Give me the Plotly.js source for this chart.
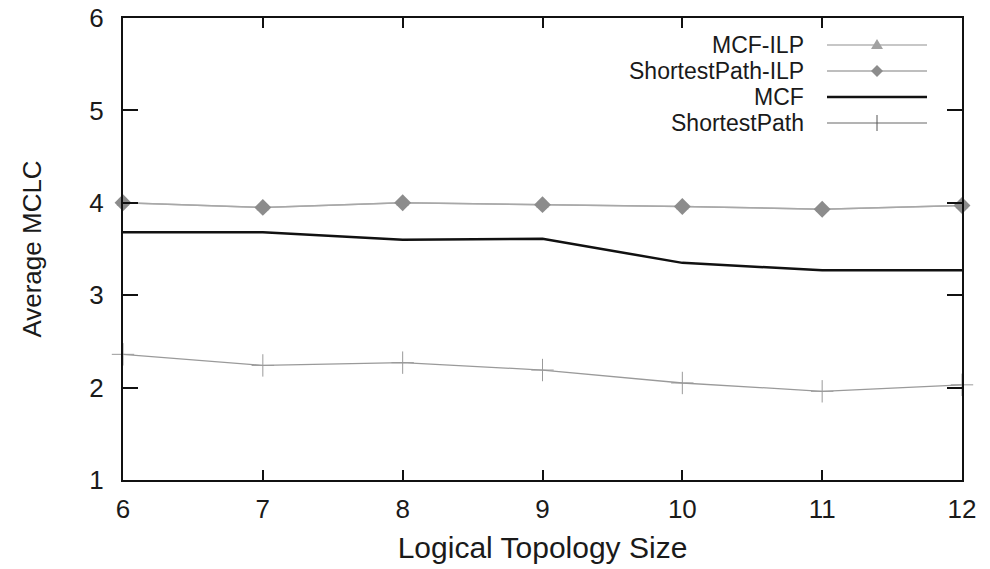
<!DOCTYPE html>
<html>
<head>
<meta charset="utf-8">
<script src="https://cdn.plot.ly/plotly-3.0.1.min.js"></script>
<style>
  html, body { margin: 0; padding: 0; background: #ffffff; }
  #chart { width: 990px; height: 569px; }
</style>
</head>
<body>
<div id="chart"></div>
<script>
// ---- data ----
const topologySize = [6, 7, 8, 9, 10, 11, 12];
const mcfIlp          = [4.00, 3.95, 4.00, 3.98, 3.96, 3.93, 3.97];
const shortestPathIlp = [4.00, 3.95, 4.00, 3.98, 3.96, 3.93, 3.97];
const mcf             = [3.68, 3.68, 3.60, 3.61, 3.35, 3.27, 3.27];
const shortestPath    = [2.36, 2.24, 2.27, 2.19, 2.05, 1.96, 2.03];
const seriesNames = ["MCF-ILP", "ShortestPath-ILP", "MCF", "ShortestPath"];
const xTickVals = [6, 7, 8, 9, 10, 11, 12];
const yTickVals = [1, 2, 3, 4, 5, 6];

// ---- layout geometry (pixels) ----
const W = 990, H = 569;
const L = 123, R = 962, T = 18, B = 480;
const px = v => (v - L) / (R - L);
const py = v => (B - v) / (B - T);

const FONT = "Liberation Sans, Arial, Helvetica, sans-serif";
const TXT = "#1a1a1a";

const traces = [
  {
    x: topologySize, y: mcfIlp, name: seriesNames[0], type: "scatter", mode: "lines+markers",
    line: { color: "#b4b4b4", width: 1.5 },
    marker: { symbol: "triangle-up", size: 11, color: "#a2a2a2" },
    cliponaxis: false, showlegend: false
  },
  {
    x: topologySize, y: shortestPathIlp, name: seriesNames[1], type: "scatter", mode: "lines+markers",
    line: { color: "#a8a8a8", width: 1.5 },
    marker: { symbol: "diamond", size: 13, color: "#8c8c8c" },
    cliponaxis: false, showlegend: false
  },
  {
    x: topologySize, y: mcf, name: seriesNames[2], type: "scatter", mode: "lines",
    line: { color: "#111111", width: 2.5 },
    cliponaxis: false, showlegend: false
  },
  {
    x: topologySize, y: shortestPath, name: seriesNames[3], type: "scatter", mode: "lines+markers",
    line: { color: "#9a9a9a", width: 1.3 },
    marker: { symbol: "cross-thin-open", size: 16, line: { color: "#555555", width: 1 } },
    cliponaxis: false, showlegend: false
  }
];

// ---- custom legend (text left, sample right) ----
const legendRows = [45, 71, 97, 123];
const textRight = 806;
const sampleX0 = 827, sampleX1 = 927, sampleMid = 877;
const sampleColors = ["#b4b4b4", "#a8a8a8", "#111111", "#9a9a9a"];
const sampleWidths = [1.5, 1.5, 2.5, 1.3];

const annotations = seriesNames.map((name, i) => ({
  text: name, xref: "paper", yref: "paper",
  x: px(textRight), y: py(legendRows[i]),
  xanchor: "right", yanchor: "middle", showarrow: false,
  font: { family: FONT, size: 23, color: TXT }
}));

const shapes = seriesNames.map((name, i) => ({
  type: "line", xref: "paper", yref: "paper",
  x0: px(sampleX0), x1: px(sampleX1), y0: py(legendRows[i]), y1: py(legendRows[i]),
  line: { color: sampleColors[i], width: sampleWidths[i] }
}));

function pathPx(points) {
  return "M" + points.map(p => px(p[0]) + "," + py(p[1])).join(" L") + " Z";
}
// triangle marker sample
shapes.push({
  type: "path", xref: "paper", yref: "paper",
  path: pathPx([[sampleMid - 6, legendRows[0] + 4], [sampleMid + 6, legendRows[0] + 4], [sampleMid, legendRows[0] - 6]]),
  fillcolor: "#a2a2a2", line: { width: 0 }
});
// diamond marker sample
shapes.push({
  type: "path", xref: "paper", yref: "paper",
  path: pathPx([[sampleMid - 6, legendRows[1]], [sampleMid, legendRows[1] - 6], [sampleMid + 6, legendRows[1]], [sampleMid, legendRows[1] + 6]]),
  fillcolor: "#8c8c8c", line: { width: 0 }
});
// cross marker sample
shapes.push({
  type: "line", xref: "paper", yref: "paper",
  x0: px(sampleMid), x1: px(sampleMid), y0: py(legendRows[3] - 8), y1: py(legendRows[3] + 8),
  line: { color: "#555555", width: 1 }
});

const layout = {
  width: W, height: H,
  margin: { l: L, r: W - R, t: T, b: H - B, pad: 0 },
  paper_bgcolor: "#ffffff", plot_bgcolor: "#ffffff",
  font: { family: FONT, color: TXT },
  showlegend: false,
  xaxis: {
    range: [6, 12], tickvals: xTickVals, ticktext: xTickVals.map(String),
    ticks: "inside", ticklen: 10, tickwidth: 2, tickcolor: "#111",
    showline: true, linecolor: "#111", linewidth: 2, mirror: "ticks",
    showgrid: false, zeroline: false,
    tickfont: { family: FONT, size: 26, color: TXT },
    ticklabelstandoff: 5,
    title: { text: "Logical Topology Size", font: { family: FONT, size: 30, color: TXT }, standoff: 14 }
  },
  yaxis: {
    range: [1, 6], tickvals: yTickVals, ticktext: yTickVals.map(String),
    ticks: "inside", ticklen: 15, tickwidth: 2, tickcolor: "#111",
    showline: true, linecolor: "#111", linewidth: 2, mirror: "ticks",
    showgrid: false, zeroline: false,
    tickfont: { family: FONT, size: 26, color: TXT },
    ticklabelstandoff: 12,
    title: { text: "Average MCLC", font: { family: FONT, size: 26, color: TXT }, standoff: 40 }
  },
  annotations: annotations,
  shapes: shapes
};

Plotly.newPlot("chart", traces, layout, { staticPlot: true, displayModeBar: false });
</script>
</body>
</html>
